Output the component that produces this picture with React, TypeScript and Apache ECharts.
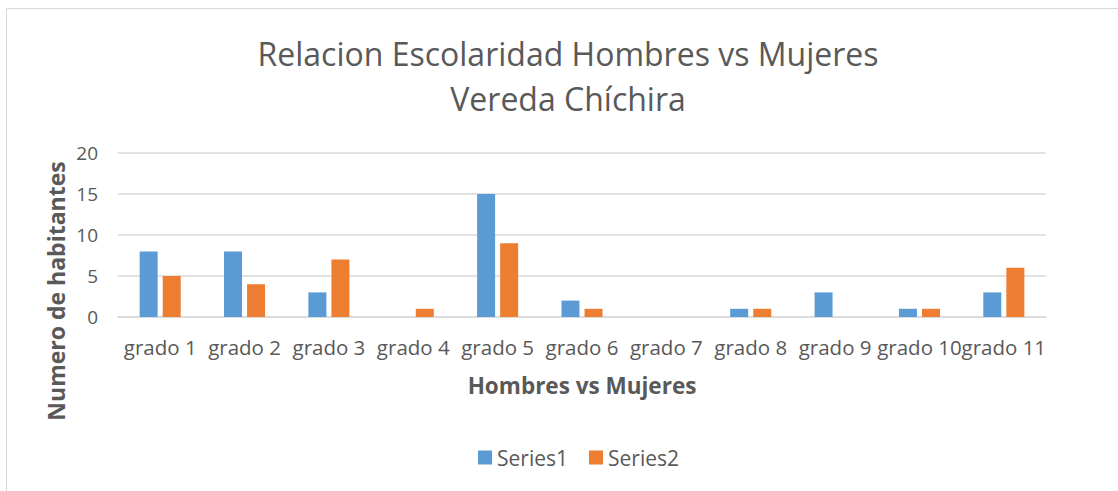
import React, { useEffect, useRef } from "react";
import * as echarts from "echarts";

const categories = ["grado 1", "grado 2", "grado 3", "grado 4", "grado 5", "grado 6", "grado 7", "grado 8", "grado 9", "grado 10", "grado 11"];
const series1 = [8, 8, 3, 0, 15, 2, 0, 1, 3, 1, 3];
const series2 = [5, 4, 7, 1, 9, 1, 0, 1, 0, 1, 6];
const yTicks = { min: 0, max: 20, interval: 5 };

const FONT = "'Open Sans', 'Noto Sans', sans-serif";
const TXT = "#595959";

export default function App() {
  const ref = useRef<HTMLDivElement>(null);
  useEffect(() => {
    if (!ref.current) return;
    const chart = echarts.init(ref.current, null, { renderer: "svg" });
    chart.setOption({
      animation: false,
      textStyle: { fontFamily: FONT },
      title: {
        text: "Relacion Escolaridad Hombres vs Mujeres\nVereda Chíchira",
        left: 563,
        textAlign: "center",
        top: 26,
        textStyle: { fontFamily: FONT, fontSize: 32, fontWeight: "normal", color: TXT, lineHeight: 45 },
      },
      graphic: [
        {
          type: "rect",
          shape: { x: 6.5, y: 8.5, width: 1120, height: 500 },
          style: { fill: "none", stroke: "#d9d9d9", lineWidth: 1 },
          silent: true,
        },
        {
          type: "text",
          x: 56,
          y: 291,
          rotation: Math.PI / 2,
          style: {
            text: "Numero de habitantes",
            align: "center",
            verticalAlign: "middle",
            fill: TXT,
            font: "bold 23px 'Open Sans', 'Noto Sans', sans-serif",
          },
          silent: true,
        },
      ],
      legend: {
        bottom: 18,
        left: 473,
        itemWidth: 14,
        itemHeight: 14,
        itemGap: 21,
        icon: "rect",
        textStyle: { fontFamily: FONT, fontSize: 21, color: TXT },
      },
      grid: { left: 118, right: 72, top: 153, bottom: 174, containLabel: false },
      xAxis: {
        type: "category",
        data: categories,
        name: "Hombres vs Mujeres",
        nameLocation: "middle",
        nameGap: 57,
        nameTextStyle: { fontFamily: FONT, fontSize: 22.5, fontWeight: "bold", color: TXT },
        axisLine: { lineStyle: { color: "#d9d9d9", width: 1.5 } },
        axisTick: { show: false },
        axisLabel: { color: TXT, fontSize: 20.5, margin: 19, fontFamily: FONT, interval: 0 },
      },
      yAxis: {
        type: "value",
        min: yTicks.min,
        max: yTicks.max,
        interval: yTicks.interval,
        axisLine: { show: false },
        axisTick: { show: false },
        splitLine: { lineStyle: { color: "#d9d9d9", width: 1.5 } },
        axisLabel: { color: TXT, fontSize: 19, margin: 20, fontFamily: FONT },
      },
      series: [
        {
          name: "Series1",
          type: "bar",
          data: series1,
          barWidth: 18,
          barGap: "28%",
          itemStyle: { color: "#5B9BD5" },
        },
        {
          name: "Series2",
          type: "bar",
          data: series2,
          barWidth: 18,
          itemStyle: { color: "#ED7D31" },
        },
      ],
    });
    return () => chart.dispose();
  }, []);
  return (
    <div
      ref={ref}
      style={{ position: "fixed", left: 0, top: 0, width: 1118, height: 491, background: "#fff" }}
    />
  );
}
